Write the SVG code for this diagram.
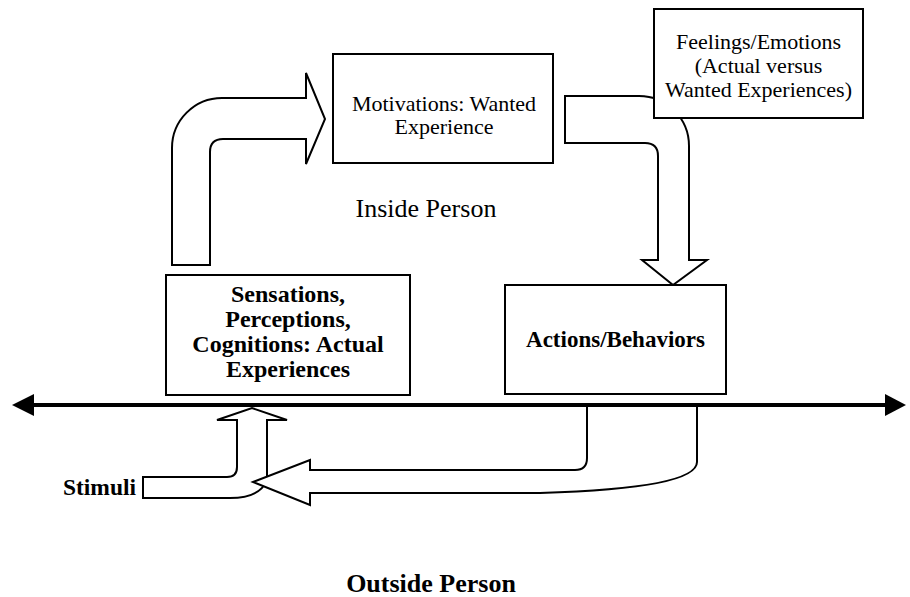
<svg xmlns="http://www.w3.org/2000/svg" width="910" height="597" viewBox="0 0 910 597">
<style>
.box{fill:#fff;stroke:#000;stroke-width:2}
.blk{fill:#fff;stroke:#000;stroke-width:2;stroke-linejoin:miter}
.t{font-family:"Liberation Serif","Times New Roman",serif;fill:#000;text-anchor:middle}
.b{font-weight:bold}
</style>
<rect width="910" height="597" fill="#fff"/>
<g id="connectors">
<path class="blk" d="M172,265 L172,148 A50,50 0 0 1 222,98 L306,98 L306,73 L325,119 L306,164 L306,139 L223,139 Q210,139 210,152 L210,265 Z"/>
<path class="blk" d="M565,96 L639,96 A50,50 0 0 1 689,146 L689,260 L707,260 L673,285 L642,260 L658,260 L658,156 Q658,143 645,143 L565,143 Z"/>
<path class="blk" d="M143,477 L227,477 Q237,477 237,467 L237,420 L217,420 L252,408 L287,420 L267,420 L267,480 Q260,498 230,498 L143,498 Z"/>
<path class="blk" d="M253,482 L310,460 L310,470 L575,470 Q587,470 587,458 L587,405 L697,405 L697,462 C697,480 640,490 540,493 L310,493 L310,505 Z"/>
<line x1="30" y1="405" x2="888" y2="405" stroke="#000" stroke-width="4"/>
<polygon points="12,405 34,394 34,416" fill="#000"/>
<polygon points="906,405 885,394 885,416" fill="#000"/>
</g>
<g id="motivations">
<rect class="box" x="333" y="54" width="220" height="109"/>
<text class="t" font-size="22" x="444" y="111">Motivations: Wanted</text>
<text class="t" font-size="22" x="444" y="134">Experience</text>
</g>
<g id="feelings">
<rect class="box" x="654" y="9" width="209" height="109"/>
<text class="t" font-size="22" x="758.5" y="49">Feelings/Emotions</text>
<text class="t" font-size="22" x="758.5" y="73">(Actual versus</text>
<text class="t" font-size="22" x="758.5" y="97">Wanted Experiences)</text>
</g>
<g id="sensations">
<rect class="box" x="166" y="275" width="244" height="120"/>
<text class="t b" font-size="24" x="288" y="302">Sensations,</text>
<text class="t b" font-size="24" x="288" y="327">Perceptions,</text>
<text class="t b" font-size="24" x="288" y="352">Cognitions: Actual</text>
<text class="t b" font-size="24" x="288" y="377">Experiences</text>
</g>
<g id="actions">
<rect class="box" x="505" y="285" width="221" height="109"/>
<text class="t b" font-size="23" x="615.5" y="347">Actions/Behaviors</text>
</g>
<g id="stimuli">
<text class="t b" font-size="23.5" x="99.5" y="495">Stimuli</text>
</g>
<g id="inside">
<text class="t" font-size="26" x="426" y="217">Inside Person</text>
</g>
<g id="outside">
<text class="t b" font-size="26" x="431" y="592">Outside Person</text>
</g>
</svg>
